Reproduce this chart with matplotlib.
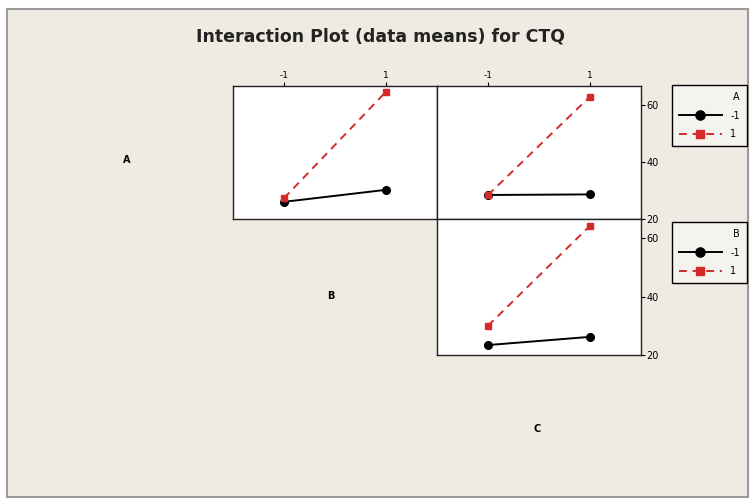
import matplotlib.pyplot as plt
from matplotlib.patches import Rectangle

plt.rcParams["axes.unicode_minus"] = False

levels = [-1, 1]
legend_levels = ["-1", "1"]
y_ticks = [20, 40, 60]

# top-left panel: x = B, lines = A
ab_low = [26.0, 30.2]
ab_high = [27.3, 64.5]
# top-right panel: x = C, lines = A
ac_low = [28.4, 28.6]
ac_high = [28.4, 62.8]
# bottom panel: x = C, lines = B
bc_low = [23.4, 26.2]
bc_high = [30.0, 64.2]

BG = "#efebe2"
RED = "#d42a2a"
W, H = 752, 504


def px_axes(fig, x0, y0, x1, y1):
    return fig.add_axes([x0 / W, 1 - y1 / H, (x1 - x0) / W, (y1 - y0) / H])


def draw_panel(ax, low, high, top_ticks, right_ticks):
    ax.plot(levels, low, color="black", lw=1.4, marker="o", ms=5.5, label=legend_levels[0])
    ax.plot(levels, high, color=RED, lw=1.4, ls=(0, (4, 3)), marker="s", ms=5, label=legend_levels[1])
    ax.set_xlim(-2, 2)
    ax.set_ylim(20, 66.5)
    ax.set_facecolor("white")
    for s in ax.spines.values():
        s.set_color("#222222")
        s.set_linewidth(1)
    ax.set_xticks(levels)
    ax.set_yticks(y_ticks)
    ax.tick_params(axis="x", top=top_ticks, labeltop=top_ticks, bottom=False, labelbottom=False,
                   direction="out", length=3, labelsize=6.5, pad=1)
    ax.tick_params(axis="y", right=right_ticks, labelright=right_ticks, left=False, labelleft=False,
                   direction="out", length=3, labelsize=7, pad=1)


def add_legend(ax, title, x, y):
    leg = ax.legend(title=title, loc="upper left", bbox_to_anchor=(x / W, 1 - y / H),
                    bbox_transform=ax.figure.transFigure, borderaxespad=0, fontsize=7,
                    title_fontsize=7, alignment="right", handlelength=4.4, handletextpad=0.9,
                    numpoints=1, fancybox=False, framealpha=1, borderpad=0.7, labelspacing=0.9,
                    markerscale=1.2)
    leg.get_frame().set_edgecolor("black")
    leg.get_frame().set_facecolor("#f5f3ee")
    leg.get_frame().set_linewidth(1)


fig = plt.figure(figsize=(W / 100, H / 100), dpi=100, facecolor="white")
fig.patches.append(Rectangle((7 / W, 1 - 497 / H), 741 / W, 488 / H, transform=fig.transFigure,
                             facecolor=BG, edgecolor="#9a9a9a", lw=1.5, zorder=-1))

ax_ab = px_axes(fig, 233, 86, 437, 219)
ax_ac = px_axes(fig, 437, 86, 641, 219)
ax_bc = px_axes(fig, 437, 219, 641, 355)

draw_panel(ax_ab, ab_low, ab_high, True, False)
draw_panel(ax_ac, ac_low, ac_high, True, True)
draw_panel(ax_bc, bc_low, bc_high, False, True)

add_legend(ax_ac, "A", 672, 85)
add_legend(ax_bc, "B", 672, 222)

fig.text(381 / W, 1 - 37 / H, "Interaction Plot (data means) for CTQ", ha="center", va="center",
         fontsize=12.5, fontweight="bold", color="#222222")
fig.text(127 / W, 1 - 160 / H, "A", ha="center", va="center", fontsize=7, fontweight="bold")
fig.text(331 / W, 1 - 296 / H, "B", ha="center", va="center", fontsize=7, fontweight="bold")
fig.text(537 / W, 1 - 429 / H, "C", ha="center", va="center", fontsize=7, fontweight="bold")

fig.savefig("out.png", dpi=100)
